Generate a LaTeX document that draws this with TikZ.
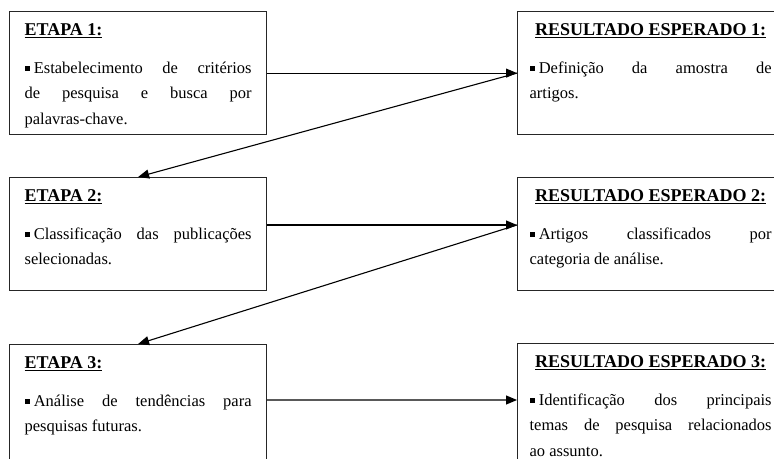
\documentclass[tikz,border=0pt]{standalone}
\usepackage{fontspec}
\setmainfont{Liberation Serif}
\usetikzlibrary{arrows.meta}

\newcommand{\marcador}{\rule[2.2bp]{5.2bp}{5.2bp}\hspace{4bp}}
\newcommand{\textoetapa}[3]{\parbox[t][#1][t]{227bp}{\sloppy
    \fontsize{18bp}{25.5bp}\selectfont\rule{0pt}{24bp}\underline{\textbf{#2}}\par
    \vspace{12bp}\fontsize{16.5bp}{25.5bp}\selectfont\marcador #3\par}}
\newcommand{\textoresultado}[3]{\parbox[t][#1][t]{242bp}{\sloppy
    \fontsize{18bp}{25.5bp}\selectfont\makebox[\linewidth]{\rule{0pt}{24bp}\underline{\textbf{#2}}}\par
    \vspace{12bp}\fontsize{16.5bp}{25.5bp}\selectfont\marcador #3\par}}

\begin{document}
\begin{tikzpicture}[x=1bp, y=-1bp,
    caixa/.style={draw=black!85, line width=1.2bp, inner ysep=0pt, anchor=north west},
    etapa/.style={caixa, inner xsep=15bp},
    resultado/.style={caixa, inner xsep=12bp},
    seta/.style={-{Triangle[length=11bp,width=9bp]}, line width=1.1bp}]
        \useasboundingbox (0,0) rectangle (774,459);
        \clip (0,0) rectangle (774,459);

        % coluna das etapas
        \node[etapa] (e1) at (9,11) {\textoetapa{123bp}{ETAPA 1:}{Estabelecimento de crit\'erios\linebreak de pesquisa e busca por\linebreak palavras-chave.}};
        \node[etapa] (e2) at (9,177) {\textoetapa{113bp}{ETAPA 2:}{Classifica\c{c}\~ao das publica\c{c}\~oes\linebreak selecionadas.}};
        \node[etapa] (e3) at (9,344) {\textoetapa{130bp}{ETAPA 3:}{An\'alise de tend\^encias para\linebreak pesquisas futuras.}};

        % coluna dos resultados
        \node[resultado] (r1) at (517,11) {\textoresultado{123bp}{RESULTADO ESPERADO 1:}{Defini\c{c}\~ao da amostra de\linebreak artigos.}};
        \node[resultado] (r2) at (517,177) {\textoresultado{113bp}{RESULTADO ESPERADO 2:}{Artigos classificados por\linebreak categoria de an\'alise.}};
        \node[resultado] (r3) at (517,343) {\textoresultado{130bp}{RESULTADO ESPERADO 3:}{Identifica\c{c}\~ao dos principais\linebreak temas de pesquisa relacionados\linebreak ao assunto.}};

        \draw[seta] (e1.east) -- (r1.west);
        \draw[seta] (r1.west) -- (e2.north);
        \draw[seta] ([yshift=-48bp]e2.north east) -- ([yshift=-48bp]r2.north west);
        \draw[seta] ([yshift=-48bp]r2.north west) -- (e3.north);
        \draw[seta] ([yshift=-56bp]e3.north east) -- ([yshift=-57bp]r3.north west);
    \end{tikzpicture}
\end{document}
